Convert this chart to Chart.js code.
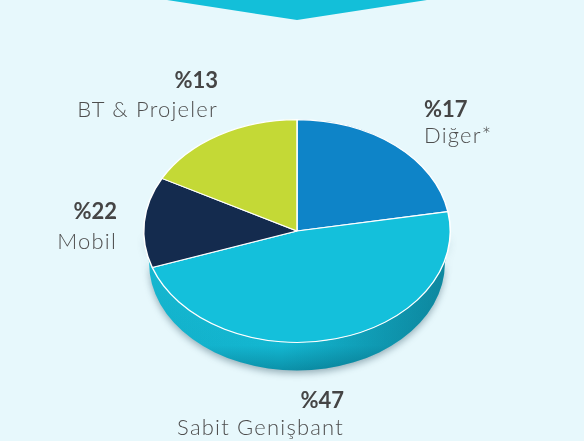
<!DOCTYPE html>
<html>
<head>
<meta charset="utf-8">
<script src="https://cdn.jsdelivr.net/npm/chart.js@4.4.1/dist/chart.umd.min.js"></script>
<style>
  html, body { margin: 0; padding: 0; background: #e7f8fc; }
  #wrap { position: relative; width: 584px; height: 441px; overflow: hidden; }
  #chevron {
    position: absolute; left: 167px; top: 0; width: 260px; height: 20px;
    background: #13bfd9; clip-path: polygon(0 0, 100% 0, 50% 100%);
  }
  canvas { position: absolute; left: 0; top: 0; }
  .lbl { position: absolute; font-family: Lato, "Open Sans", sans-serif; line-height: 1; white-space: nowrap; }
  .pct { font-size: 22px; font-weight: 700; color: #454545; }
  .name { font-size: 22px; font-weight: 300; color: #4e4e4e; letter-spacing: 1.2px; }
</style>
</head>
<body>
<div id="wrap">
  <div id="chevron"></div>
  <canvas id="pie" width="584" height="441"></canvas>
</div>
<script>
// slices in drawing order, clockwise from 12 o'clock
const categories = ["Diğer*", "Sabit Genişbant", "Mobil", "BT & Projeler"];
const percentLabels = ["%17", "%47", "%22", "%13"];
const sliceShares = [22, 47, 13, 17]; // angular share as drawn in the picture
const sliceColors = ["#0e84c8", "#14c0db", "#142b4e", "#c4d936"];

// where each label block sits (pixel layout, not data)
const labelLayout = [
    { x: 424, align: "left",  pctTop: 98,  nameTop: 124 },
    { x: 344, align: "right", pctTop: 389, nameTop: 416 },
    { x: 117, align: "right", pctTop: 200, nameTop: 230 },
    { x: 218, align: "right", pctTop: 69,  nameTop: 98 }
];

const tilt = 0.727;   // vertical squash of the pie
const depth = 32;     // height of the rim in px

const pie3d = {
    id: "pie3d",
    beforeDatasetsDraw(chart) {
        const ctx = chart.ctx;
        const arc = chart.getDatasetMeta(0).data[0];
        const cx = arc.x, cy = arc.y, r = arc.outerRadius;
        ctx.save();
        ctx.translate(cx, cy);
        ctx.scale(1, tilt);
        ctx.translate(-cx, -cy);

        // rim (front half only)
        const d = depth / tilt;
        const r2 = r * 0.965;
        ctx.save();
        ctx.beginPath();
        ctx.arc(cx, cy, r, 0, Math.PI, false);
        ctx.arc(cx, cy + d, r2, Math.PI, 0, true);
        ctx.closePath();
        const g = ctx.createLinearGradient(0, cy, 0, cy + r + d);
        g.addColorStop(0, "#19c2db");
        g.addColorStop(0.8, "#13b7d1");
        g.addColorStop(1, "#0a8ba3");
        ctx.shadowColor = "rgba(0,40,60,0.35)";
        ctx.shadowBlur = 7;
        ctx.shadowOffsetY = 3;
        ctx.fillStyle = g;
        ctx.fill();
        ctx.shadowColor = "transparent";
        const h = ctx.createLinearGradient(cx - r, 0, cx + r, 0);
        h.addColorStop(0, "rgba(0,50,70,0.06)");
        h.addColorStop(0.45, "rgba(0,50,70,0)");
        h.addColorStop(1, "rgba(0,50,70,0.4)");
        ctx.fillStyle = h;
        ctx.fill();
        ctx.restore();
    },
    afterDatasetsDraw(chart) {
        chart.ctx.restore();
    }
};

new Chart(document.getElementById("pie"), {
    type: "pie",
    data: {
        labels: categories,
        datasets: [{
            data: sliceShares,
            backgroundColor: sliceColors,
            borderColor: "#ffffff",
            borderWidth: 1.5,
            hoverOffset: 0
        }]
    },
    options: {
        responsive: false,
        animation: false,
        layout: { padding: { left: 143, right: 133, top: 77, bottom: 56 } },
        plugins: { legend: { display: false }, tooltip: { enabled: false } },
        events: []
    },
    plugins: [pie3d]
});

const wrap = document.getElementById("wrap");
categories.forEach((name, i) => {
    const pos = labelLayout[i];
    [[percentLabels[i], "pct", pos.pctTop], [name, "name", pos.nameTop]].forEach(([text, cls, top]) => {
        const el = document.createElement("div");
        el.className = "lbl " + cls;
        el.textContent = text;
        el.style.top = top + "px";
        if (pos.align === "left") el.style.left = pos.x + "px";
        else el.style.right = (584 - pos.x) + "px";
        wrap.appendChild(el);
    });
});
</script>
</body>
</html>
